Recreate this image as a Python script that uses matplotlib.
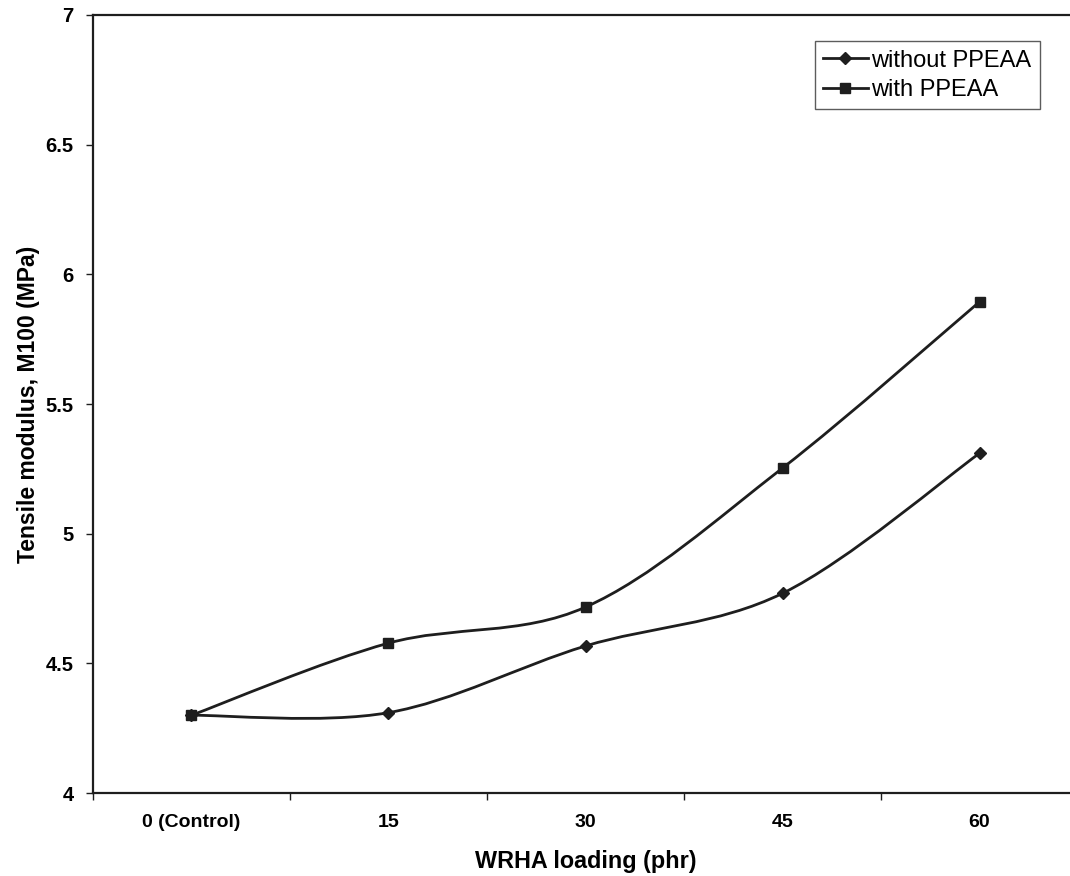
import numpy as np
import matplotlib.pyplot as plt
from matplotlib.path import Path
from matplotlib.patches import PathPatch

plt.rcParams['font.family'] = ['Liberation Sans', 'DejaVu Sans']

# data
categories = ["0 (Control)", "15", "30", "45", "60"]
without_ppeaa = [4.30, 4.31, 4.567, 4.77, 5.31]
with_ppeaa = [4.30, 4.578, 4.717, 5.253, 5.894]
y_ticks = [4, 4.5, 5, 5.5, 6, 6.5, 7]

line_col = "#1e1e1e"


# smoothed line like the spreadsheet "smoothed line" option
def smooth_path(xs, ys):
    pts = np.column_stack([xs, ys]).astype(float)
    n = len(pts)
    verts = [pts[0]]
    codes = [Path.MOVETO]
    for i in range(n - 1):
        p0 = pts[i - 1] if i > 0 else pts[i]
        p1 = pts[i]
        p2 = pts[i + 1]
        p3 = pts[i + 2] if i + 2 < n else pts[i + 1]
        c1 = p1 + (p2 - p0) / 6.0
        c2 = p2 - (p3 - p1) / 6.0
        verts += [c1, c2, p2]
        codes += [Path.CURVE4] * 3
    return Path(verts, codes)


fig = plt.figure(figsize=(10.7, 8.76), dpi=100)
ax = fig.add_axes([0.0869, 0.0947, 0.9206, 0.8882])

x = np.arange(len(categories))
for vals, mk, ms, lab in [(without_ppeaa, "D", 6.5, "without PPEAA"),
                          (with_ppeaa, "s", 7.5, "with PPEAA")]:
    ax.add_patch(PathPatch(smooth_path(x, vals), facecolor="none",
                           edgecolor=line_col, lw=2.0, zorder=2))
    ax.plot(x, vals, linestyle="none", marker=mk, ms=ms, color=line_col,
            zorder=3)
    ax.plot([], [], color=line_col, lw=2.0, marker=mk, ms=ms, label=lab)

ax.set_xlim(-0.5, len(categories) - 0.5)
ax.set_ylim(4, 7)
ax.set_yticks(y_ticks)
ax.set_yticklabels(["4", "4.5", "5", "5.5", "6", "6.5", "7"],
                   fontsize=14.5, fontweight="bold")
ax.set_xticks(np.arange(len(categories) + 1) - 0.5)
ax.set_xticklabels([])
ax.set_xticks(x, minor=True)
ax.set_xticklabels(categories, minor=True, fontsize=14, fontweight="bold")
ax.tick_params(axis="x", which="minor", length=0, pad=15)
ax.tick_params(axis="both", which="major", direction="out", length=5,
               width=1, color=line_col)
ax.tick_params(axis="y", pad=9)

for s in ["left", "bottom", "top"]:
    ax.spines[s].set_linewidth(1.6)
    ax.spines[s].set_color(line_col)
ax.spines["right"].set_visible(False)

ax.set_xlabel("WRHA loading (phr)", fontsize=16.8, fontweight="bold",
              labelpad=14)
ax.set_ylabel("Tensile modulus, M100 (MPa)", fontsize=16.5,
              fontweight="bold", labelpad=4)

leg = ax.legend(loc="upper right", bbox_to_anchor=(0.961, 0.966),
                fontsize=17, frameon=True, fancybox=False, edgecolor="#333333",
                handlelength=1.9, handletextpad=0.15, borderpad=0.35,
                labelspacing=0.3, borderaxespad=0)
leg.get_frame().set_linewidth(1.0)

fig.savefig("out.png", dpi=100)
